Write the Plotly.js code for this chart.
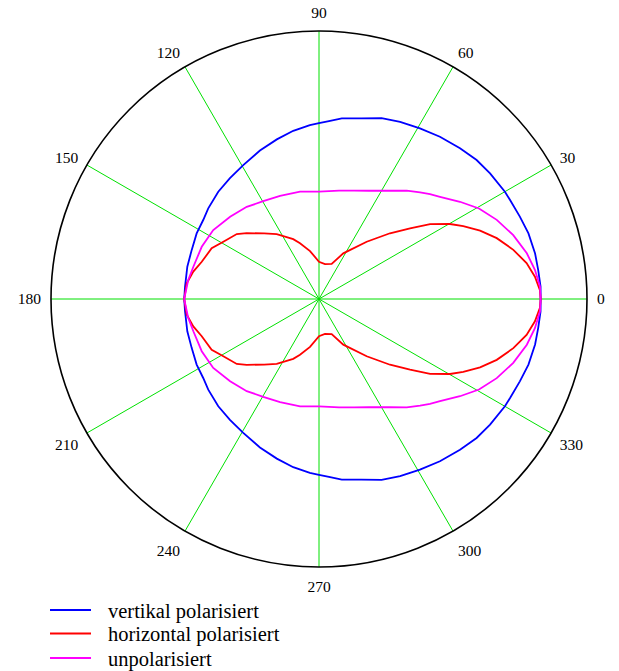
<!DOCTYPE html>
<html>
<head>
<meta charset="utf-8">
<script src="https://cdn.plot.ly/plotly-3.0.1.min.js"></script>
<style>html,body{margin:0;padding:0;background:#fff}#chart{width:619px;height:671px}</style>
</head>
<body>
<div id="chart"></div>
<script>
// Angles in degrees, radius in % of the outer circle
var thetaVertikal = [0,3.2,7.5,11.9,17.4,22.3,27.4,30.0,36.3,41.4,46.9,53.3,59.4,65.4,70.9,76.9,82.8,86.8,90,93.0,98.7,104.8,111.7,119.5,126.4,133.2,140.7,145.7,151.8,158.9,166.2,174.8,180,
  185.2,193.8,201.1,208.2,214.3,219.3,226.8,233.6,240.5,248.3,255.2,261.3,267.0,270,273.2,277.2,283.1,289.1,294.6,300.6,306.7,313.1,318.6,323.7,330.0,332.6,337.7,342.6,348.1,352.5,356.8,360];
var rVertikal = [82.7,82.8,82.5,82.4,81.9,81.0,80.3,80.1,79.2,78.4,77.0,75.5,74.0,72.7,71.4,69.2,67.9,66.5,65.6,65.0,63.5,61.6,59.6,57.4,56.0,54.9,53.4,52.3,51.8,50.9,50.6,50.2,50.3,
  50.2,50.6,50.9,51.8,52.3,53.4,54.9,56.0,57.4,59.6,61.6,63.5,65.0,65.6,66.5,67.9,69.2,71.4,72.7,74.0,75.5,77.0,78.4,79.2,80.1,80.3,81.0,81.9,82.4,82.5,82.8,82.7];

var thetaHorizontal = [0,2.3,5.9,9.8,14.2,18.9,23.0,26.8,29.8,34.0,37.8,42.8,50.2,62.0,70.1,80.3,90,100.6,108.8,113.3,123.1,129.9,137.7,141.7,149.1,154.7,162.4,167.7,173.2,180,
  186.8,192.3,197.6,205.3,210.9,218.3,222.3,230.1,236.9,246.7,251.2,259.4,270,279.7,289.9,298.0,309.8,317.2,322.2,326.0,330.2,333.2,337.0,341.1,345.8,350.2,354.1,357.7,360];
var rHorizontal = [82.7,82.5,81.0,78.6,74.8,70.1,65.3,60.3,56.3,50.0,43.0,36.1,27.8,19.3,13.9,13.2,13.9,18.2,22.0,24.3,28.9,31.9,36.5,39.1,41.6,44.3,45.9,48.0,49.7,50.3,
  49.7,48.0,45.9,44.3,41.6,39.1,36.5,31.9,28.9,24.3,22.0,18.2,13.9,13.2,13.9,19.3,27.8,36.1,43.0,50.0,56.3,60.3,65.3,70.1,74.8,78.6,81.0,82.5,82.7];

var thetaUnpol = [0,3.2,7.7,12.4,18.2,24.0,29.5,34.6,40.2,43.4,46.5,51.0,57.1,65.2,72.1,79.5,90,100.0,110.7,119.7,128.1,137.2,146.9,156.0,165.6,171.7,180,
  188.3,194.4,204.0,213.1,222.8,231.9,240.3,249.3,260.0,270,280.5,287.9,294.8,302.9,309.0,313.5,316.6,319.8,325.4,330.5,336.0,341.8,347.6,352.3,356.8,360];
var rUnpol = [82.7,82.6,81.3,79.4,76.3,72.6,68.6,63.9,59.1,57.0,54.8,52.0,48.1,44.5,42.5,41.1,40.1,40.7,41.1,42.0,43.7,45.2,47.1,47.9,48.4,49.3,50.3,
  49.3,48.4,47.9,47.1,45.2,43.7,42.0,41.1,40.7,40.1,41.1,42.5,44.5,48.1,52.0,54.8,57.0,59.1,63.9,68.6,72.6,76.3,79.4,81.3,82.6,82.7];

var seriesNames = ['vertikal polarisiert','horizontal polarisiert','unpolarisiert'];
var seriesColors = ['#0000ff','#ff0000','#ff00ff'];
var tickVals = [0,30,60,90,120,150,180,210,240,270,300,330];
var tickText = ['0','30','60','90','120','150','180','210','240','270','300','330'];

var serif = 'Liberation Serif, Times New Roman, serif';
var thetas = [thetaVertikal, thetaHorizontal, thetaUnpol];
var rs = [rVertikal, rHorizontal, rUnpol];
var traces = seriesNames.map(function(n, i){
  return {type:'scatterpolar', mode:'lines', name:n, theta:thetas[i], r:rs[i], line:{color:seriesColors[i], width:1.8}, showlegend:false};
});

// Legend drawn as line samples + text (Mathcad style: long sample lines)
var W = 619, H = 671;
var legendRowsY = [610, 633.5, 658];
var shapes = [], annotations = [];
seriesNames.forEach(function(n, i){
  var yp = 1 - legendRowsY[i]/H;
  shapes.push({type:'line', xref:'paper', yref:'paper', x0:50/W, x1:91/W, y0:yp, y1:yp, line:{color:seriesColors[i], width:1.8}});
  annotations.push({xref:'paper', yref:'paper', x:106/W, y:yp - 1/H, xanchor:'left', yanchor:'middle', showarrow:false, text:n, font:{family:serif, size:20.5, color:'#000'}});
});

var layout = {
  width:W, height:H,
  margin:{l:0,r:0,t:0,b:0},
  paper_bgcolor:'#ffffff',
  showlegend:false,
  shapes:shapes,
  annotations:annotations,
  polar:{
    domain:{x:[51/W, 587/W], y:[1-567/H, 1-31/H]},
    bgcolor:'#ffffff',
    radialaxis:{range:[0,100], showgrid:false, showticklabels:false, ticks:'', showline:false},
    angularaxis:{
      rotation:0, direction:'counterclockwise',
      tickmode:'array', tickvals:tickVals, ticktext:tickText,
      showgrid:true, gridcolor:'#00e000', gridwidth:1,
      showline:true, linecolor:'#000000', linewidth:1.6,
      ticks:'outside', ticklen:6, tickcolor:'rgba(0,0,0,0)',
      tickfont:{family:serif, size:15.5, color:'#000'}
    }
  }
};
Plotly.newPlot('chart', traces, layout, {displayModeBar:false, staticPlot:true});
</script>
</body>
</html>
